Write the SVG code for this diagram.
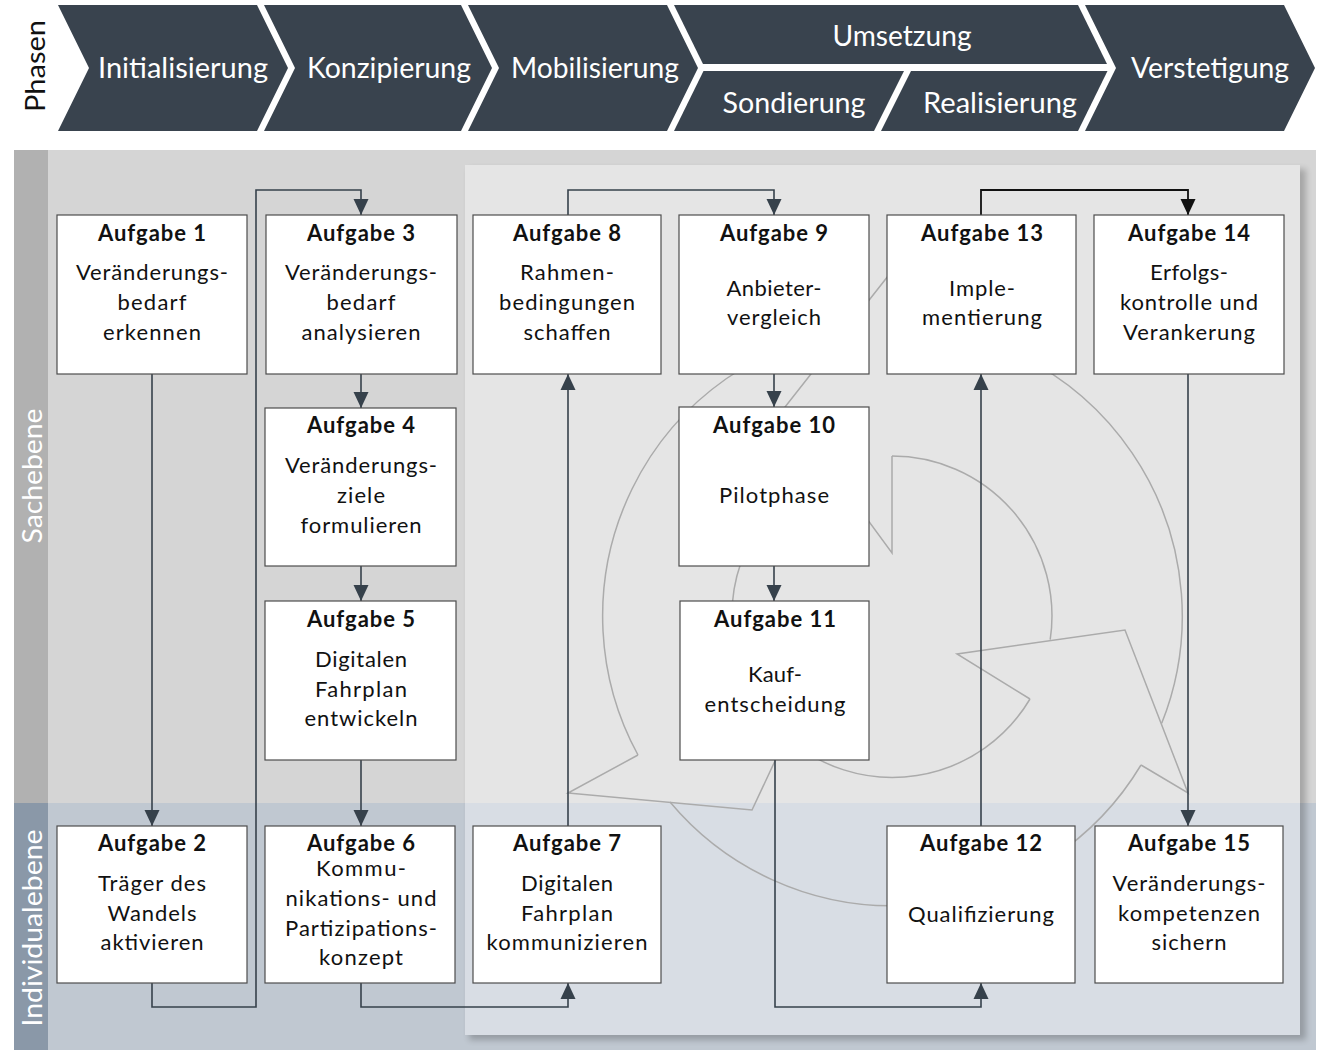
<svg xmlns="http://www.w3.org/2000/svg" width="1319" height="1050" viewBox="0 0 1319 1050">
<defs>
<style>
.chev{fill:#39434e}
.ht{font-family:Lato,"Liberation Sans",sans-serif;font-size:29px;fill:#ffffff;text-anchor:middle}
.lane{font-family:Lato,"Liberation Sans",sans-serif;font-size:26px;text-anchor:middle}
.box{fill:#ffffff;stroke:#4d4d4d;stroke-width:1.2}
.h{font-family:Lato,"Liberation Sans",sans-serif;font-size:22px;font-weight:bold;fill:#111111;text-anchor:middle}
.b{font-family:Lato,"Liberation Sans",sans-serif;font-size:22px;fill:#111111;text-anchor:middle}
.con{fill:none;stroke:#36414b;stroke-width:1.6;marker-end:url(#ah)}
.conk{fill:none;stroke:#111111;stroke-width:1.8;marker-end:url(#ahk)}
.cyc{fill:none;stroke:#ababab;stroke-width:1.5;stroke-linejoin:miter}
</style>
<marker id="ah" markerUnits="userSpaceOnUse" markerWidth="16" markerHeight="16" refX="16" refY="8" orient="auto"><path d="M0,0.5 L16,8 L0,15.5 Z" fill="#36414b"/></marker>
<marker id="ahk" markerUnits="userSpaceOnUse" markerWidth="16" markerHeight="16" refX="16" refY="8" orient="auto"><path d="M0,0.5 L16,8 L0,15.5 Z" fill="#111111"/></marker>
<filter id="blur" x="-5%" y="-5%" width="110%" height="110%"><feGaussianBlur stdDeviation="3"/></filter>
</defs>

<rect x="0" y="0" width="1319" height="1050" fill="#ffffff"/>

<g id="header">
<text class="lane" transform="translate(45,66) rotate(-90)" fill="#111111" font-size="27" textLength="92" lengthAdjust="spacingAndGlyphs">Phasen</text>
<path class="chev" d="M58,5 L257,5 L288,68 L257,131 L58,131 L89,68 Z"/>
<path class="chev" d="M264,5 L461,5 L492,68 L461,131 L264,131 L295,68 Z"/>
<path class="chev" d="M468,5 L667,5 L698,68 L667,131 L468,131 L499,68 Z"/>
<path class="chev" d="M674,5 L1078,5 L1107,64 L703,64 Z"/>
<path class="chev" d="M703.5,71 L904,71 L874,131 L674,131 Z"/>
<path class="chev" d="M911,71 L1107.5,71 L1078,131 L881,131 Z"/>
<path class="chev" d="M1085,5 L1284,5 L1315,68 L1284,131 L1085,131 L1116,68 Z"/>
<text class="ht" x="183" y="78" textLength="170" lengthAdjust="spacingAndGlyphs">Initialisierung</text>
<text class="ht" x="389" y="78" textLength="164" lengthAdjust="spacingAndGlyphs">Konzipierung</text>
<text class="ht" x="595" y="78" textLength="168" lengthAdjust="spacingAndGlyphs">Mobilisierung</text>
<text class="ht" x="902" y="46" textLength="139" lengthAdjust="spacingAndGlyphs">Umsetzung</text>
<text class="ht" x="794" y="113" textLength="143" lengthAdjust="spacingAndGlyphs">Sondierung</text>
<text class="ht" x="1000" y="113" textLength="154" lengthAdjust="spacingAndGlyphs">Realisierung</text>
<text class="ht" x="1210" y="78" textLength="158" lengthAdjust="spacingAndGlyphs">Verstetigung</text>
</g>

<g id="lanes">
<rect x="14" y="150" width="1302" height="653" fill="#d5d5d5"/>
<rect x="14" y="803" width="1302" height="247" fill="#c0c8d1"/>
<rect x="14" y="150" width="34" height="653" fill="#b1b1b1"/>
<rect x="14" y="803" width="34" height="247" fill="#8a98a8"/>
<text class="lane" transform="translate(42,476) rotate(-90)" fill="#ffffff" textLength="135" lengthAdjust="spacingAndGlyphs">Sachebene</text>
<text class="lane" transform="translate(42,928) rotate(-90)" fill="#ffffff" textLength="197" lengthAdjust="spacingAndGlyphs">Individualebene</text>
<rect x="469" y="169" width="837" height="871" fill="#000000" opacity="0.22" filter="url(#blur)"/>
<rect x="465" y="165" width="835" height="638" fill="#e5e5e5"/>
<rect x="465" y="803" width="835" height="232" fill="#d8dde4"/>
</g>

<g id="cycle">
<path class="cyc" d="M892,456 A160,160 0 0 1 1050.2,639.7"/>
<path class="cyc" d="M892,326 A290,290 0 0 1 1161.7,723.3"/>
<path class="cyc" d="M1030,699 L957,654 L1125,630 L1188,793 L1141,765"/>
<path class="cyc" d="M1141,765 A290,290 0 0 1 670,802"/>
<path class="cyc" d="M1030,699 A160,160 0 0 1 786,737"/>
<path class="cyc" d="M752,693 L826,652 L752,810 L568,793 L638,755"/>
<path class="cyc" d="M638,755 A290,290 0 0 1 846,330"/>
<path class="cyc" d="M752,693 A160,160 0 0 1 830,468"/>
<path class="cyc" d="M892,456 L892,553 L785,407 L892,271 L892,326"/>
</g>

<g id="connectors">
<path class="con" d="M152,374 V826"/>
<path class="con" d="M152,983 V1007 H256 V190 H361 V215"/>
<path class="con" d="M361,374 V408"/>
<path class="con" d="M361,566 V601"/>
<path class="con" d="M361,760 V826"/>
<path class="con" d="M361,983 V1007 H568 V983"/>
<path class="con" d="M568,826 V374"/>
<path class="con" d="M568,215 V190 H774 V215"/>
<path class="con" d="M774,374 V407"/>
<path class="con" d="M774,566 V601"/>
<path class="con" d="M775,760 V1007 H981 V983"/>
<path class="con" d="M981,826 V374"/>
<path class="conk" d="M981,215 V190 H1188 V215"/>
<path class="con" d="M1188,374 V826"/>
</g>

<g id="a1">
<rect class="box" x="57" y="215" width="190" height="159"/>
<text class="h" x="152" y="241" textLength="108">Aufgabe 1</text>
<text class="b" x="152" y="280" textLength="152">Veränderungs-</text>
<text class="b" x="152" y="310" textLength="69">bedarf</text>
<text class="b" x="152" y="340" textLength="98">erkennen</text>
</g>
<g id="a2">
<rect class="box" x="57" y="826" width="190" height="157"/>
<text class="h" x="152" y="851" textLength="108">Aufgabe 2</text>
<text class="b" x="152" y="891" textLength="108">Träger des</text>
<text class="b" x="152" y="921" textLength="89">Wandels</text>
<text class="b" x="152" y="950" textLength="103">aktivieren</text>
</g>
<g id="a3">
<rect class="box" x="266" y="215" width="191" height="159"/>
<text class="h" x="361" y="241" textLength="108">Aufgabe 3</text>
<text class="b" x="361" y="280" textLength="152">Veränderungs-</text>
<text class="b" x="361" y="310" textLength="69">bedarf</text>
<text class="b" x="361" y="340" textLength="119">analysieren</text>
</g>
<g id="a4">
<rect class="box" x="265" y="408" width="191" height="158"/>
<text class="h" x="361" y="433" textLength="108">Aufgabe 4</text>
<text class="b" x="361" y="473" textLength="152">Veränderungs-</text>
<text class="b" x="361" y="503" textLength="48">ziele</text>
<text class="b" x="361" y="533" textLength="121">formulieren</text>
</g>
<g id="a5">
<rect class="box" x="265" y="601" width="191" height="159"/>
<text class="h" x="361" y="627" textLength="108">Aufgabe 5</text>
<text class="b" x="361" y="667" textLength="92">Digitalen</text>
<text class="b" x="361" y="697" textLength="92">Fahrplan</text>
<text class="b" x="361" y="726" textLength="113">entwickeln</text>
</g>
<g id="a6">
<rect class="box" x="265" y="826" width="190" height="157"/>
<text class="h" x="361" y="851" textLength="108">Aufgabe 6</text>
<text class="b" x="361" y="876" textLength="90">Kommu-</text>
<text class="b" x="361" y="906" textLength="151">nikations- und</text>
<text class="b" x="361" y="936" textLength="152">Partizipations-</text>
<text class="b" x="361" y="965" textLength="84">konzept</text>
</g>
<g id="a7">
<rect class="box" x="473" y="826" width="188" height="157"/>
<text class="h" x="567" y="851" textLength="108">Aufgabe 7</text>
<text class="b" x="567" y="891" textLength="92">Digitalen</text>
<text class="b" x="567" y="921" textLength="92">Fahrplan</text>
<text class="b" x="567" y="950" textLength="161">kommunizieren</text>
</g>
<g id="a8">
<rect class="box" x="473" y="215" width="188" height="159"/>
<text class="h" x="567" y="241" textLength="108">Aufgabe 8</text>
<text class="b" x="567" y="280" textLength="94">Rahmen-</text>
<text class="b" x="567" y="310" textLength="136">bedingungen</text>
<text class="b" x="567" y="340" textLength="87">schaffen</text>
</g>
<g id="a9">
<rect class="box" x="679" y="215" width="190" height="159"/>
<text class="h" x="774" y="241" textLength="108">Aufgabe 9</text>
<text class="b" x="774" y="296" textLength="95">Anbieter-</text>
<text class="b" x="774" y="325" textLength="94">vergleich</text>
</g>
<g id="a10">
<rect class="box" x="679" y="407" width="190" height="159"/>
<text class="h" x="774" y="433" textLength="122">Aufgabe 10</text>
<text class="b" x="774" y="503" textLength="110">Pilotphase</text>
</g>
<g id="a11">
<rect class="box" x="680" y="601" width="189" height="159"/>
<text class="h" x="775" y="627" textLength="122">Aufgabe 11</text>
<text class="b" x="775" y="682" textLength="54">Kauf-</text>
<text class="b" x="775" y="712" textLength="141">entscheidung</text>
</g>
<g id="a12">
<rect class="box" x="887" y="826" width="188" height="157"/>
<text class="h" x="981" y="851" textLength="122">Aufgabe 12</text>
<text class="b" x="981" y="922" textLength="146">Qualifizierung</text>
</g>
<g id="a13">
<rect class="box" x="887" y="215" width="189" height="159"/>
<text class="h" x="982" y="241" textLength="122">Aufgabe 13</text>
<text class="b" x="982" y="296" textLength="66">Imple-</text>
<text class="b" x="982" y="325" textLength="120">mentierung</text>
</g>
<g id="a14">
<rect class="box" x="1094" y="215" width="190" height="159"/>
<text class="h" x="1189" y="241" textLength="122">Aufgabe 14</text>
<text class="b" x="1189" y="280" textLength="78">Erfolgs-</text>
<text class="b" x="1189" y="310" textLength="138">kontrolle und</text>
<text class="b" x="1189" y="340" textLength="132">Verankerung</text>
</g>
<g id="a15">
<rect class="box" x="1095" y="826" width="188" height="157"/>
<text class="h" x="1189" y="851" textLength="122">Aufgabe 15</text>
<text class="b" x="1189" y="891" textLength="153">Veränderungs-</text>
<text class="b" x="1189" y="921" textLength="142">kompetenzen</text>
<text class="b" x="1189" y="950" textLength="75">sichern</text>
</g>
</svg>
